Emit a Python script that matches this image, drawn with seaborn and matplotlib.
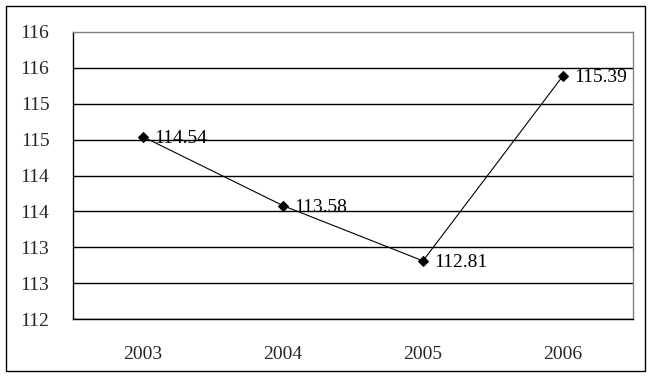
import matplotlib
matplotlib.use("Agg")
import matplotlib.pyplot as plt
import seaborn as sns
import pandas as pd
from matplotlib.patches import Rectangle

years = ["2003", "2004", "2005", "2006"]
values = [114.54, 113.58, 112.81, 115.39]
yticks = [112, 112.5, 113, 113.5, 114, 114.5, 115, 115.5, 116]
ytick_labels = ["112", "113", "113", "114", "114", "115", "115", "116", "116"]

sns.set_style("white")
plt.rcParams['font.family'] = ['Liberation Serif', 'DejaVu Serif']

df = pd.DataFrame({"pos": range(len(years)), "value": values})

fig = plt.figure(figsize=(6.53, 3.78), dpi=100)
ax = fig.add_axes([73 / 653, 1 - 319 / 378, 560 / 653, 287 / 378])

# horizontal gridlines every 0.5
for yv in yticks[:-1]:
    ax.axhline(yv, color="black", lw=1, zorder=1)

sns.lineplot(data=df, x="pos", y="value", ax=ax, color="black", lw=0.8,
             marker="D", markersize=5, markeredgecolor="black", zorder=3)

for i, v in enumerate(values):
    ax.annotate(f"{v:.2f}", (i, v), xytext=(8, -1), textcoords="offset points",
                va="center", ha="left", fontsize=14, color="black")

ax.set_xlim(-0.5, len(years) - 0.5)
ax.set_ylim(112, 116)
ax.set_yticks(yticks)
ax.set_yticklabels(ytick_labels)
ax.set_xticks(range(len(years)))
ax.set_xticklabels(years)
ax.set_xticks([i + 0.5 for i in range(len(years) - 1)], minor=True)
ax.tick_params(axis="y", length=0, pad=17, labelsize=14)
ax.tick_params(axis="x", which="major", length=0, pad=19.5, labelsize=14)
ax.tick_params(axis="x", which="minor", direction="in", length=5, width=1, color="black")
ax.set_xlabel("")
ax.set_ylabel("")

for side in ["left", "bottom"]:
    ax.spines[side].set_color("black")
    ax.spines[side].set_linewidth(1)
for side in ["top", "right"]:
    ax.spines[side].set_color("#808080")
    ax.spines[side].set_linewidth(1)

fig.patches.append(Rectangle((6 / 653, 1 - 371 / 378), 639 / 653, 365 / 378,
                             transform=fig.transFigure, fill=False,
                             edgecolor="black", lw=1))

fig.savefig("out.png", dpi=100)
